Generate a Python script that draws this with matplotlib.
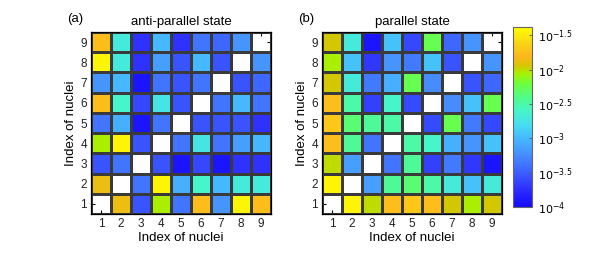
import numpy as np
import matplotlib
matplotlib.use("Agg")
import matplotlib.pyplot as plt
from matplotlib.colors import LinearSegmentedColormap, LogNorm

plt.rcParams['font.family'] = ['Liberation Sans', 'DejaVu Sans']

nuclei = [1, 2, 3, 4, 5, 6, 7, 8, 9]
nan = np.nan

# log10 of values, rows = nuclei 1..9 (bottom to top), columns = nuclei 1..9
log_antiparallel = [
    [nan, -1.87, -3.55, -2.05, -3.38, -1.75, -3.20, -1.45, -1.75],
    [-1.87, nan, -3.38, -1.45, -3.05, -2.60, -3.00, -2.70, -2.70],
    [-3.55, -3.38, nan, -3.55, -3.92, -3.62, -3.92, -3.72, -3.72],
    [-2.05, -1.45, -3.55, nan, -3.38, -2.75, -3.38, -3.15, -3.00],
    [-3.38, -3.05, -3.92, -3.38, nan, -3.55, -3.55, -3.55, -3.72],
    [-1.75, -2.60, -3.62, -2.75, -3.55, nan, -3.38, -3.00, -3.38],
    [-3.20, -3.00, -3.92, -3.38, -3.55, -3.38, nan, -3.55, -3.45],
    [-1.45, -2.70, -3.72, -3.15, -3.55, -3.00, -3.55, nan, -3.20],
    [-1.75, -2.70, -3.72, -3.00, -3.72, -3.38, -3.45, -3.20, nan],
]

log_parallel = [
    [nan, -1.45, -2.00, -1.75, -1.70, -1.75, -1.95, -2.05, -1.95],
    [-1.45, nan, -3.15, -2.45, -2.35, -2.50, -2.70, -2.95, -2.70],
    [-2.00, -3.15, nan, -3.38, -2.45, -3.65, -3.35, -3.70, -3.92],
    [-1.75, -2.45, -3.38, nan, -2.50, -2.60, -3.05, -3.20, -2.95],
    [-1.70, -2.35, -2.45, -2.50, nan, -3.60, -2.25, -3.35, -3.62],
    [-1.75, -2.50, -3.65, -2.60, -3.60, nan, -3.25, -2.95, -2.25],
    [-1.95, -2.70, -3.35, -3.05, -2.25, -3.25, nan, -3.55, -3.45],
    [-2.05, -2.95, -3.70, -3.20, -3.35, -2.95, -3.55, nan, -3.20],
    [-1.95, -2.70, -3.92, -2.95, -3.62, -2.25, -3.45, -3.20, nan],
]

titles = ["anti-parallel state", "parallel state"]
panel_labels = ["(a)", "(b)"]
cbar_exps = [-1.5, -2, -2.5, -3, -3.5, -4]
cbar_labels = [r"$10^{-1.5}$", r"$10^{-2}$", r"$10^{-2.5}$", r"$10^{-3}$", r"$10^{-3.5}$", r"$10^{-4}$"]

lmin, lmax = -4.0, -1.38
anchors = [
    (-4.00, (20, 10, 255)),
    (-3.75, (45, 45, 255)),
    (-3.50, (60, 95, 255)),
    (-3.25, (70, 140, 255)),
    (-3.00, (70, 185, 255)),
    (-2.80, (70, 222, 240)),
    (-2.60, (70, 245, 200)),
    (-2.40, (80, 252, 135)),
    (-2.20, (110, 255, 60)),
    (-2.05, (170, 240, 0)),
    (-1.95, (210, 200, 0)),
    (-1.80, (255, 182, 30)),
    (-1.60, (248, 215, 20)),
    (-1.38, (255, 255, 0)),
]
cmap = LinearSegmentedColormap.from_list(
    "custom", [((l - lmin) / (lmax - lmin), tuple(c / 255 for c in rgb)) for l, rgb in anchors])
norm = LogNorm(vmin=10 ** lmin, vmax=10 ** lmax)

fig = plt.figure(figsize=(6.14, 2.6), dpi=100)
W, H = 614, 260

def axrect(x0, y0, x1, y1):
    return [x0 / W, 1 - y1 / H, (x1 - x0) / W, (y1 - y0) / H]

axes_pix = [(91, 32, 271, 214), (322, 32, 502, 214)]
edges = np.arange(0.5, 10.5, 1.0)
mesh = None
for i, (data, title, lab) in enumerate(zip([log_antiparallel, log_parallel], titles, panel_labels)):
    ax = fig.add_axes(axrect(*axes_pix[i]))
    vals = np.power(10.0, np.array(data, dtype=float))
    vals = np.ma.masked_invalid(vals)
    mesh = ax.pcolormesh(edges, edges, vals, cmap=cmap, norm=norm,
                         edgecolors='#3a3a3a', linewidth=0.75, zorder=1)
    ax.set_axisbelow(True)
    ax.set_xlim(0.5, 9.5)
    ax.set_ylim(0.5, 9.5)
    ax.set_xticks(nuclei)
    ax.set_yticks(nuclei)
    ax.tick_params(direction='in', length=3, width=0.8, labelsize=8.5,
                   top=True, right=True, pad=3, labelcolor='#222222')
    for s in ax.spines.values():
        s.set_linewidth(0.9)
        s.set_color('black')
    ax.set_xlabel("Index of nuclei", fontsize=9.5, labelpad=1)
    ax.set_ylabel("Index of nuclei", fontsize=9.5, labelpad=2)
    ax.set_title(title, fontsize=9.5, pad=5)
    x0 = axes_pix[i][0]
    fig.text((x0 - 24) / W, 1 - 19 / H, lab, fontsize=9.5, ha='left', va='center')

cax = fig.add_axes(axrect(513, 27, 532, 207))
cb = fig.colorbar(mesh, cax=cax)
cb.set_ticks([10 ** e for e in cbar_exps])
cb.set_ticklabels(cbar_labels)
cb.minorticks_off()
cax.tick_params(direction='in', length=2.5, width=0.6, labelsize=8, pad=4, color='#555555')
cb.outline.set_edgecolor('#666666')
cb.outline.set_linewidth(0.8)

fig.savefig("out.png", dpi=100)
